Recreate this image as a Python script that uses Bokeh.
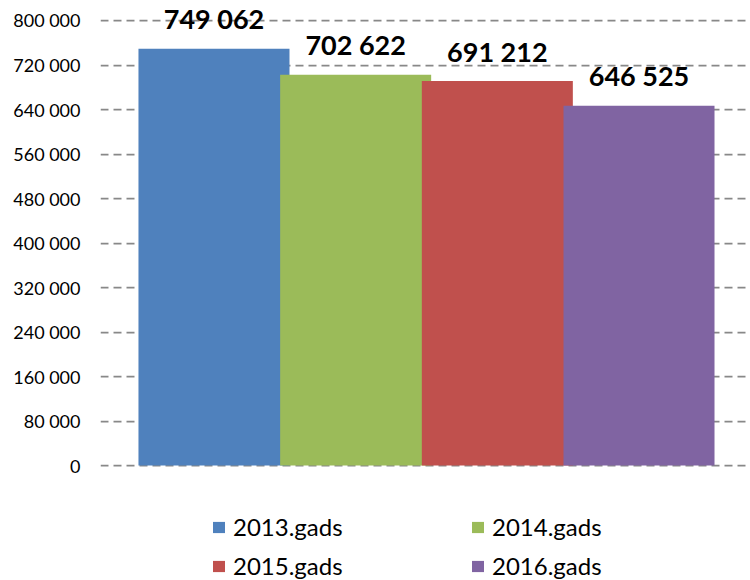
from bokeh.plotting import figure
from bokeh.models import ColumnDataSource, FixedTicker, Legend, LegendItem, Range1d
from bokeh.core.properties import value
from bokeh.embed import file_html
from bokeh.resources import INLINE

# ---- data ----
years = ["2013.gads", "2014.gads", "2015.gads", "2016.gads"]
values = [749062, 702622, 691212, 646525]
colors = ["#4F81BD", "#9BBB59", "#C0504D", "#8064A2"]
tick_values = [0, 80000, 160000, 240000, 320000, 400000, 480000, 560000, 640000, 720000, 800000]
tick_labels = ["0", "80 000", "160 000", "240 000", "320 000", "400 000",
               "480 000", "560 000", "640 000", "720 000", "800 000"]

labels = [f"{v:,}".replace(",", " ") for v in values]
xs = list(range(len(years)))

src = ColumnDataSource(dict(x=xs, top=values, color=colors, label=labels, year=years))

W, H = 750, 580
p = figure(width=W, height=H, output_backend="svg", toolbar_location=None,
           x_range=Range1d(-0.801, 3.787), y_range=Range1d(-206741, 835955),
           x_axis_location=None,
           min_border_left=100, min_border_right=0, min_border_top=0, min_border_bottom=0)
p.outline_line_color = None
p.background_fill_color = "white"
p.border_fill_color = "white"

# grid
p.xgrid.visible = False
p.ygrid.ticker = FixedTicker(ticks=tick_values)
p.ygrid.grid_line_color = "#888888"
p.ygrid.grid_line_width = 1.75
p.ygrid.grid_line_dash = "8 5"

# y axis
p.yaxis.ticker = FixedTicker(ticks=tick_values)
p.yaxis.major_label_overrides = {t: l for t, l in zip(tick_values, tick_labels)}
p.yaxis.axis_line_color = None
p.yaxis.major_tick_line_color = None
p.yaxis.minor_tick_line_color = None
p.yaxis.major_tick_out = 0
p.yaxis.major_tick_in = 0
p.yaxis.major_label_standoff = 20
p.yaxis.major_label_text_font = "Lato"
p.yaxis.major_label_text_font_size = "18px"
p.yaxis.major_label_text_color = "#000000"

r = p.vbar(x="x", top="top", bottom=0, width=1.066, color="color", line_color=None, source=src)

p.text(x="x", y="top", text="label", source=src, text_align="center",
       text_baseline="alphabetic", y_offset=-30,
       text_font=value("Lato"), text_font_style="bold", text_font_size="27px",
       text_color="#000000")

def make_legend(idx, loc):
    leg = Legend(items=[LegendItem(label=years[i], renderers=[r], index=i) for i in idx],
                 orientation="horizontal", location=loc,
                 glyph_width=15, glyph_height=14, label_standoff=7,
                 label_width=237, label_height=24, spacing=0,
                 padding=0, margin=0, border_line_color=None,
                 background_fill_alpha=0,
                 label_text_font="Lato", label_text_font_size="24px",
                 label_text_color="#000000")
    return leg

p.add_layout(make_legend([0, 1], (111, 39)))
p.add_layout(make_legend([2, 3], (111, 0)))

open("out.html", "w").write(file_html(p, INLINE))
